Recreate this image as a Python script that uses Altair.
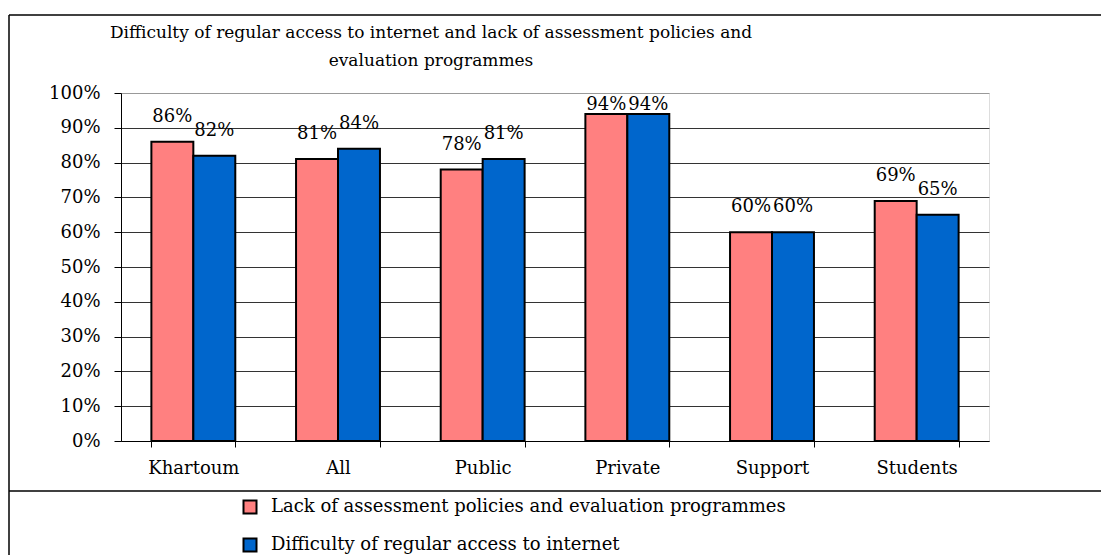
import altair as alt
import pandas as pd

categories = ["Khartoum", "All", "Public", "Private", "Support", "Students"]
series = [
    "Lack of assessment policies and evaluation programmes",
    "Difficulty of regular access to internet",
]
lack_values = [86, 81, 78, 94, 60, 69]
difficulty_values = [82, 84, 81, 94, 60, 65]
colors = ["#FF8080", "#0066CC"]
title_lines = [
    "Difficulty of regular access to internet and lack of assessment policies and",
    "evaluation programmes",
]
y_ticks = [0, 0.1, 0.2, 0.3, 0.4, 0.5, 0.6, 0.7, 0.8, 0.9, 1.0]

rows = []
for cat, a, b in zip(categories, lack_values, difficulty_values):
    rows.append({"category": cat, "series": series[0], "value": a / 100, "label": f"{a}%"})
    rows.append({"category": cat, "series": series[1], "value": b / 100, "label": f"{b}%"})
df = pd.DataFrame(rows)

FONT = "DejaVu Serif"
W, H = 868, 348

x_axis = alt.Axis(
    title=None, labelAngle=0, tickBand="extent", tickSize=6, tickColor="#000",
    domainColor="#000", labelFont=FONT, labelFontSize=18, labelColor="#000",
    labelPadding=12, grid=False,
)
y_axis = alt.Axis(
    title=None, values=y_ticks, format=".0%", tickSize=7, tickColor="#000",
    domainColor="#000", labelFont=FONT, labelFontSize=18, labelColor="#000",
    labelPadding=14, grid=True,
    gridColor={"condition": {"test": "datum.value === 1", "value": "#999999"}, "value": "#333333"},
    gridWidth=1,
)
x_scale = alt.Scale(paddingInner=0.42, paddingOuter=0.21)
y_scale = alt.Scale(domain=[0, 1], nice=False)
xoff = alt.XOffset("series:N", sort=series, scale=alt.Scale(paddingInner=0, paddingOuter=0))

base = alt.Chart(df)

bars = base.mark_bar(stroke="#000", strokeWidth=2).encode(
    x=alt.X("category:N", sort=categories, scale=x_scale, axis=x_axis),
    xOffset=xoff,
    y=alt.Y("value:Q", scale=y_scale, axis=y_axis),
    color=alt.Color(
        "series:N",
        sort=series,
        scale=alt.Scale(domain=series, range=colors),
        legend=alt.Legend(
            title=None, orient="none", legendX=120, legendY=405, symbolType="square",
            symbolSize=169, symbolStrokeColor="#000", symbolStrokeWidth=2,
            labelFont=FONT, labelFontSize=18, labelColor="#000", labelLimit=900,
            rowPadding=16, labelOffset=12, padding=0, symbolOpacity=1,
        ),
    ),
)

labels = base.transform_calculate(
    label_y="min(datum.value + 0.072, 0.966)"
).mark_text(font=FONT, fontSize=18, color="#000", baseline="middle").encode(
    x=alt.X("category:N", sort=categories, scale=x_scale, axis=x_axis),
    xOffset=xoff,
    y=alt.Y("label_y:Q", scale=y_scale, axis=y_axis),
    text="label:N",
)

title1 = alt.Chart(pd.DataFrame({"text": [title_lines[0]]})).mark_text(
    font=FONT, fontSize=17, color="#000", align="center", baseline="alphabetic"
).encode(x=alt.value(310), y=alt.value(-55), text="text:N")
title2 = alt.Chart(pd.DataFrame({"text": [title_lines[1]]})).mark_text(
    font=FONT, fontSize=17, color="#000", align="center", baseline="alphabetic"
).encode(x=alt.value(310), y=alt.value(-27), text="text:N")

rule_df = pd.DataFrame({"k": [0]})
top_line = alt.Chart(rule_df).mark_rule(color="#000", strokeWidth=1.5).encode(
    x=alt.value(-112), x2=alt.value(980), y=alt.value(-78))
divider = alt.Chart(rule_df).mark_rule(color="#000", strokeWidth=1.5).encode(
    x=alt.value(-112), x2=alt.value(980), y=alt.value(398))
left_line = alt.Chart(rule_df).mark_rule(color="#000", strokeWidth=1.5).encode(
    x=alt.value(-112), y=alt.value(-78), y2=alt.value(470))

chart = alt.layer(bars, labels, title1, title2, top_line, divider, left_line).properties(
    width=W, height=H,
    padding={"left": 113, "top": 85, "right": 112, "bottom": 114},
    autosize=alt.AutoSizeParams(type="none"),
).configure_view(stroke="#999999", strokeWidth=2).configure(background="white")

chart.save("out.html", embed_options={"renderer": "svg", "actions": False})
